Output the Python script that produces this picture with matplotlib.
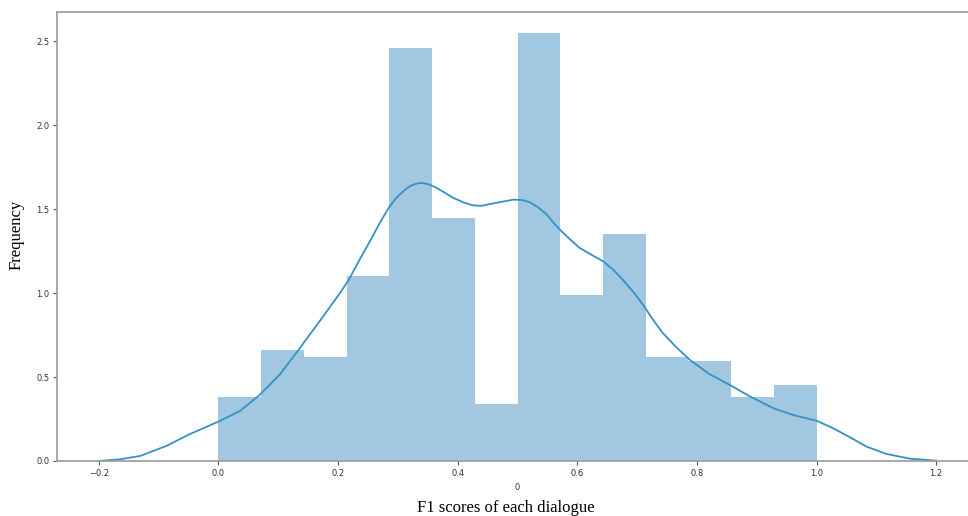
import numpy as np
import matplotlib
matplotlib.use("Agg")
import matplotlib.pyplot as plt

# Histogram (density) over 14 equal bins from 0 to 1
bin_lo = 0.0
bin_hi = 1.0
n_bins = 14
bar_heights = [0.382, 0.662, 0.620, 1.104, 2.458, 1.450, 0.340,
               2.548, 0.990, 1.354, 0.620, 0.597, 0.382, 0.453]

# KDE curve
kde_x = [-0.200, -0.165, -0.131, -0.087, -0.048, 0.000, 0.036, 0.069, 0.103,
         0.133, 0.175, 0.203, 0.218, 0.236, 0.255, 0.270, 0.285, 0.298, 0.310,
         0.320, 0.330, 0.340, 0.352, 0.365, 0.380, 0.393, 0.410, 0.426, 0.440,
         0.454, 0.475, 0.493, 0.507, 0.521, 0.535, 0.549, 0.560, 0.571, 0.588,
         0.604, 0.623, 0.643, 0.660, 0.676, 0.693, 0.710, 0.726, 0.743, 0.765,
         0.788, 0.820, 0.855, 0.889, 0.928, 0.961, 1.000, 1.028, 1.056, 1.084,
         1.117, 1.156, 1.200]
kde_y = [0.000, 0.010, 0.030, 0.090, 0.160, 0.235, 0.298, 0.394, 0.517,
         0.658, 0.861, 1.000, 1.080, 1.200, 1.320, 1.420, 1.510, 1.570, 1.610,
         1.637, 1.652, 1.657, 1.648, 1.627, 1.595, 1.567, 1.540, 1.523, 1.520,
         1.531, 1.545, 1.557, 1.555, 1.541, 1.510, 1.468, 1.420, 1.378, 1.320,
         1.269, 1.230, 1.190, 1.140, 1.080, 1.010, 0.930, 0.845, 0.762, 0.680,
         0.603, 0.520, 0.453, 0.384, 0.314, 0.274, 0.240, 0.195, 0.141, 0.085,
         0.042, 0.014, 0.002]

x_ticks = [-0.2, 0.0, 0.2, 0.4, 0.6, 0.8, 1.0, 1.2]
y_ticks = [0.0, 0.5, 1.0, 1.5, 2.0, 2.5]

fig = plt.figure(figsize=(9.68, 5.16), dpi=100)
ax = fig.add_axes([57/968, 55/516, (978-57)/968, (461-12)/516])

edges = np.linspace(bin_lo, bin_hi, n_bins + 1)
ax.bar(edges[:-1], bar_heights, width=np.diff(edges), align='edge',
       color='#a1c8e0', linewidth=0)
ax.plot(kde_x, kde_y, color='#3492c4', linewidth=1.3)

ax.set_xlim(-0.27, 1.27)
ax.set_ylim(0, 2.675)
ax.set_xticks(x_ticks)
ax.set_yticks(y_ticks)
ax.set_xticklabels([f"{t:.1f}".replace('-', '\u2212') for t in x_ticks])
ax.set_yticklabels([f"{t:.1f}" for t in y_ticks])
ax.tick_params(labelsize=6, length=3, width=0.8, color='#555555',
               labelcolor='#333333', pad=2.5)
for s in ['left', 'bottom', 'top', 'right']:
    ax.spines[s].set_color('#999999')
    ax.spines[s].set_linewidth(1.2)

ax.set_xlabel('0', fontsize=6, color='#333333', labelpad=4)

fig.text(506/968, 1 - 508/516, 'F1 scores of each dialogue',
         family='Liberation Serif', fontsize=12, ha='center', va='center')
fig.text(17/968, 1 - 235/516, 'Frequency', family='Liberation Serif',
         fontsize=12, ha='center', va='center', rotation=90)

fig.savefig('out.png', dpi=100)
